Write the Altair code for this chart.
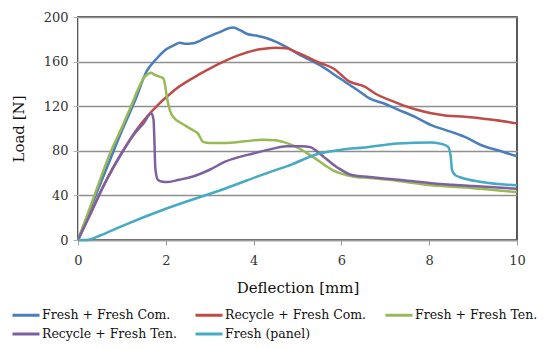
import altair as alt
import pandas as pd

series_names = ["Fresh + Fresh Com.", "Recycle + Fresh Com.", "Fresh + Fresh Ten.",
                "Recycle + Fresh Ten.", "Fresh (panel)"]
series_colors = ["#4a7ebb", "#be4b48", "#98b954", "#7d60a0", "#46aac5"]

fresh_com_x = [0, 0.3, 0.7, 1.0, 1.3, 1.56, 1.8, 2.01, 2.2, 2.32, 2.45, 2.62, 2.9, 3.2, 3.53, 3.7,
               3.84, 4.1, 4.3, 4.5, 4.75, 5.05, 5.3, 5.5, 5.96, 6.42, 6.64, 7.0, 7.29, 7.7, 8.05,
               8.5, 8.81, 9.19, 9.6, 10]
fresh_com_y = [0, 30, 69, 98, 125, 151, 163, 171, 175, 177, 176, 176.5, 181, 186, 190.5, 188,
               185, 183, 181, 178, 173, 166, 161, 157, 145, 133, 127, 122, 117, 110, 103,
               97, 92.5, 85, 80, 75]

recycle_com_x = [0, 0.3, 0.6, 0.99, 1.3, 1.67, 2.2, 2.81, 3.34, 3.68, 4.14, 4.5, 4.75, 5.0, 5.2,
                 5.5, 5.81, 6.19, 6.53, 6.76, 7.29, 7.7, 8.05, 8.4, 8.81, 9.4, 10]
recycle_com_y = [0, 25, 50, 77.6, 97, 115, 134.6, 149.6, 160.5, 166, 171, 172.5, 172, 168, 164.5,
                 159, 154, 142, 137.5, 131.6, 122.6, 117, 113.6, 111.5, 110.5, 108, 104.6]

fresh_ten_x = [0, 0.3, 0.76, 1.0, 1.22, 1.4, 1.52, 1.6, 1.67, 1.75, 1.86, 1.94, 1.98, 2.01, 2.09,
               2.2, 2.3, 2.43, 2.6, 2.73, 2.85, 3.0, 3.34, 3.8, 4.21, 4.5, 4.67, 4.97, 5.35, 5.81,
               6.26, 6.64, 7.3, 8.05, 9.0, 10]
fresh_ten_y = [0, 32, 80.6, 101, 121, 138, 146.5, 149, 150, 148, 146.5, 145, 140, 131.6, 116.6,
               109, 106, 103, 99, 95.6, 88, 87, 87, 88.5, 90, 89.5, 88, 83.5, 74.5, 62.5,
               57, 55.6, 53, 49, 46.5, 43]

recycle_ten_x = [0, 0.3, 0.6, 0.99, 1.3, 1.5, 1.67, 1.72, 1.74, 1.76, 1.82, 1.9, 2.05, 2.3, 2.58,
                 3.0, 3.34, 3.99, 4.4, 4.75, 5.1, 5.28, 5.5, 5.89, 6.26, 6.64, 7.3, 8.05, 9.0, 10]
recycle_ten_y = [0, 25, 50, 77.6, 96, 105, 113.6, 108, 90, 65, 54, 52.5, 52, 54, 56.5,
                 63, 70, 77.6, 81.5, 84, 84, 83.5, 77.6, 65.5, 58, 56.5, 54, 51, 48.5, 46]

panel_x = [0, 0.2, 0.5, 1.0, 2.0, 3.34, 4.48, 4.75, 5.5, 6.0, 6.53, 7.29, 8.05, 8.3, 8.43, 8.49,
           8.52, 8.6, 8.69, 9.19, 10]
panel_y = [0, 0, 4, 12.5, 28, 46, 62.5, 66, 77.6, 81, 83, 86.6, 87.5, 86, 83.5, 75,
           62.5, 58, 56.5, 52, 49]

y_ticks = [0, 40, 80, 120, 160, 200]
x_ticks = [0, 2, 4, 6, 8, 10]

rows = []
for name, xs, ys in zip(series_names,
                        [fresh_com_x, recycle_com_x, fresh_ten_x, recycle_ten_x, panel_x],
                        [fresh_com_y, recycle_com_y, fresh_ten_y, recycle_ten_y, panel_y]):
    for i, (xv, yv) in enumerate(zip(xs, ys)):
        rows.append({"series": name, "x": xv, "y": yv, "i": i})
df = pd.DataFrame(rows)

font = "DejaVu Serif"

chart = alt.Chart(df).mark_line(strokeWidth=2.5, interpolate="monotone").encode(
    x=alt.X("x:Q", scale=alt.Scale(domain=[0, 10], nice=False),
            axis=alt.Axis(title="Deflection [mm]", values=x_ticks, grid=False, labelFlush=False,
                          domainColor="#9a9a9a", domainWidth=1.5, tickColor="#9a9a9a",
                          tickSize=5, labelPadding=9, titlePadding=13)),
    y=alt.Y("y:Q", scale=alt.Scale(domain=[0, 200], nice=False),
            axis=alt.Axis(title="Load [N]", values=y_ticks, grid=True, labelFlush=False,
                          gridColor="#8f8f8f", gridWidth=1.6,
                          domainColor="#c8c8c8", domainWidth=1, tickColor="#b0b0b0",
                          tickSize=5, labelPadding=5, titlePadding=17)),
    color=alt.Color("series:N", scale=alt.Scale(domain=series_names, range=series_colors),
                    legend=alt.Legend(title=None, orient="none", legendX=-55, legendY=289,
                                      direction="horizontal", columns=3, columnPadding=12,
                                      rowPadding=3, symbolType="M-2.6,0H1",
                                      symbolStrokeWidth=3, symbolSize=225,
                                      symbolFillColor="transparent",
                                      labelFont=font, labelFontSize=12.5,
                                      labelColor="#111", labelOffset=1, padding=0)),
    order="i:Q",
).properties(
    width=439, height=223,
    autosize=alt.AutoSizeParams(type="none"),
    padding={"left": 70, "top": 9, "right": 25, "bottom": 101},
).configure_view(
    stroke="#222", strokeWidth=1.5
).configure_axis(
    labelFont=font, labelFontSize=13, labelColor="#333", labelFontWeight="normal",
    titleFont=font, titleFontSize=15, titleColor="#111", titleFontWeight="normal",
)

chart.save("out.html", embed_options={"renderer": "svg", "actions": False})
